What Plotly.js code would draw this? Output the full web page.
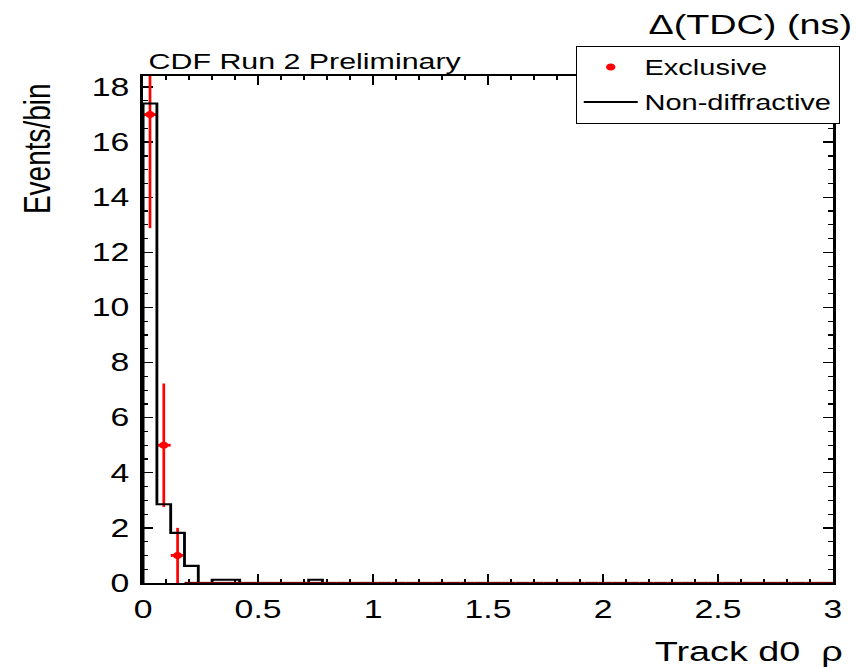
<!DOCTYPE html>
<html>
<head>
<meta charset="utf-8">
<script src="https://cdn.plot.ly/plotly-3.0.1.min.js"></script>
<style>
  html, body { margin: 0; padding: 0; background: #ffffff; overflow: hidden; }
  #wrap { position: absolute; left: 0; top: 0; width: 634px; height: 667px;
          transform: scaleX(1.35); transform-origin: 0 0; }
</style>
</head>
<body>
<div id="wrap"><div id="chart"></div></div>
<script>
// ---- data ----
const binWidth = 0.06;            // 50 bins over [0, 3]
const nBins = 50;
// Non-diffractive (black histogram), first bins; all later bins are empty
const nonDiffValues = [17.4, 2.86, 1.82, 0.62, 0, 0.12, 0.12, 0, 0, 0, 0, 0, 0.12, 0];
// Exclusive (red points), bin contents and statistical errors
const exclusiveValues = [17, 5, 1];
const exclusiveErrors = [4.12, 2.24, 1.0];

const xTitle = 'Track d0  \u03c1';
const yTitle = 'Events/bin';
const plotTitle = '\u0394(TDC) (ns)';
const label = 'CDF Run 2 Preliminary';

// ---- build traces ----
const FONT = 'Liberation Sans, Arial, Helvetica, sans-serif';

// histogram outline: left edges + closing point
const histX = [0];
const histY = [0];
for (let i = 0; i < nonDiffValues.length; i++) {
  histX.push(i * binWidth);
  histY.push(nonDiffValues[i]);
}
histX.push(nonDiffValues.length * binWidth);
histY.push(0);

// exclusive bins: non-empty with markers, empty ones only horizontal bars
const exX = [], exY = [], exE = [], exHalf = [];
const zeroX = [], zeroY = [], zeroHalf = [];
for (let i = 0; i < nBins; i++) {
  const c = (i + 0.5) * binWidth;
  const v = i < exclusiveValues.length ? exclusiveValues[i] : 0;
  if (v > 0) { exX.push(c); exY.push(v); exE.push(exclusiveErrors[i]); exHalf.push(binWidth / 2); }
  else { zeroX.push(c); zeroY.push(0); zeroHalf.push(binWidth / 2); }
}

const traces = [
  {
    type: 'scatter', mode: 'markers', name: 'Exclusive',
    x: exX, y: exY, legendgroup: 'a',
    marker: { color: '#ff0000', size: 7, symbol: 'circle' },
    error_y: { type: 'data', array: exE, visible: true, color: '#ff0000', thickness: 2, width: 0 },
    error_x: { type: 'data', array: exHalf, visible: true, color: '#ff0000', thickness: 2.7, width: 0 },
    cliponaxis: true
  },
  {
    type: 'scatter', mode: 'lines', name: 'Non-diffractive',
    x: histX, y: histY, legendgroup: 'b',
    line: { color: '#000000', width: 2.1, shape: 'hv' },
    cliponaxis: true
  },
  {
    type: 'scatter', mode: 'markers', name: 'Exclusive (empty bins)', showlegend: false,
    x: zeroX, y: zeroY, legendgroup: 'a',
    marker: { color: 'rgba(0,0,0,0)', size: 1 },
    error_x: { type: 'data', array: zeroHalf, visible: true, color: '#720000', thickness: 2.3, width: 0 },
    cliponaxis: false, hoverinfo: 'skip'
  }
];

const axisCommon = {
  showgrid: false, zeroline: false,
  showline: true, linecolor: '#000000', linewidth: 2.3, mirror: 'allticks',
  ticks: 'inside', tickcolor: '#000000', tickwidth: 1.4,
  tickfont: { family: FONT, size: 25, color: '#000000' },
  layer: 'below traces', fixedrange: true
};

const layout = {
  width: 634, height: 667,
  margin: { l: 105.6, r: 14.8, t: 76, b: 83.5, pad: 0 },
  paper_bgcolor: '#ffffff', plot_bgcolor: '#ffffff',
  font: { family: FONT, color: '#000000' },
  title: {
    text: plotTitle, font: { family: FONT, size: 28, color: '#000000' },
    xref: 'container', x: 0.9955, xanchor: 'right',
    yref: 'container', y: 0.9636, yanchor: 'middle'
  },
  xaxis: Object.assign({}, axisCommon, {
    range: [0, 3], tick0: 0, dtick: 0.5, ticklen: 9, ticklabelstandoff: 3,
    minor: { dtick: 0.1, ticks: 'inside', ticklen: 4, tickwidth: 1.2, tickcolor: '#000000', showgrid: false }
  }),
  yaxis: Object.assign({}, axisCommon, {
    range: [0, 18.4], tick0: 0, dtick: 2, ticklen: 7.5, ticklabelstandoff: 3,
    minor: { dtick: 0.5, ticks: 'inside', ticklen: 3.5, tickwidth: 1.2, tickcolor: '#000000', showgrid: false }
  }),
  showlegend: true,
  legend: {
    x: 0.627, xanchor: 'left', y: 1.06, yanchor: 'top',
    bgcolor: '#ffffff', bordercolor: '#000000', borderwidth: 1,
    font: { family: FONT, size: 21.5, color: '#000000' },
    itemwidth: 40, traceorder: 'grouped', tracegroupgap: 4
  },
  annotations: [
    {
      text: label, xref: 'paper', yref: 'paper', x: 0.0035, y: 1.0285,
      xanchor: 'left', yanchor: 'middle', showarrow: false,
      font: { family: FONT, size: 22.5, color: '#000000' }
    },
    {
      text: xTitle, xref: 'paper', yref: 'paper', x: 1.0185, y: -0.1348,
      xanchor: 'right', yanchor: 'middle', showarrow: false,
      font: { family: FONT, size: 28, color: '#000000' }
    },
    {
      text: yTitle, xref: 'paper', yref: 'paper', x: -0.1535, y: 0.857,
      xanchor: 'center', yanchor: 'middle', showarrow: false, textangle: -90,
      font: { family: FONT, size: 28, color: '#000000' }
    }
  ]
};

Plotly.newPlot('chart', traces, layout, { displayModeBar: false, staticPlot: true });
</script>
</body>
</html>
